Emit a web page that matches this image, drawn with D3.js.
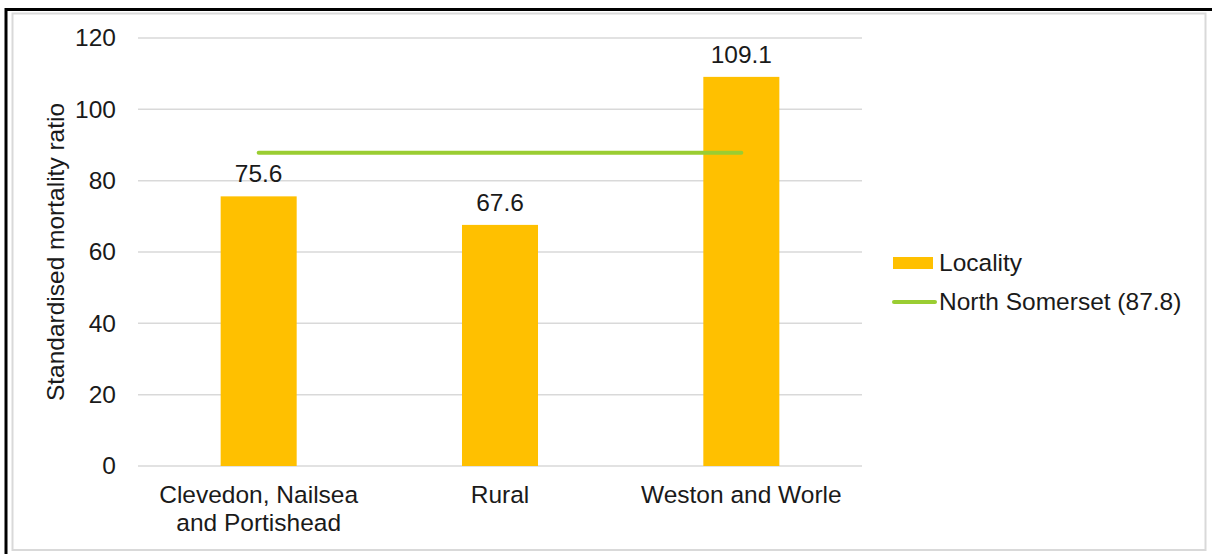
<!DOCTYPE html>
<html><head><meta charset="utf-8">
<script src="https://cdn.jsdelivr.net/npm/d3@7"></script>
<style>body{margin:0;background:#fff;}svg{display:block;font-family:"Liberation Sans",Arial,sans-serif;}</style>
</head><body><div id="chart"></div>
<script>
const categories = [["Clevedon, Nailsea", "and Portishead"], ["Rural"], ["Weston and Worle"]];
const localityValues = [75.6, 67.6, 109.1];
const northSomerset = 87.8;
const yTicks = [0, 20, 40, 60, 80, 100, 120];
const legendLabels = ["Locality", "North Somerset (87.8)"];

const W = 1212, H = 554;
const FS = 24.5;
const svg = d3.select("#chart").append("svg").attr("width", W).attr("height", H);

// frame
svg.append("rect").attr("x", 12.5).attr("y", 13.5).attr("width", 1193).attr("height", 536.5)
  .attr("fill", "#fff").attr("stroke", "#d9d9d9").attr("stroke-width", 2);
svg.append("path").attr("d", "M6,554 V9.5 H1212").attr("fill", "none").attr("stroke", "#000").attr("stroke-width", 3);

const m = {left: 138, right: 862, top: 38, bottom: 466};
const x = d3.scaleBand().domain(categories.map((d, i) => i)).range([m.left, m.right]).paddingInner(0.685).paddingOuter(0.3425);
const y = d3.scaleLinear().domain([0, 120]).range([m.bottom, m.top]);

const g = svg.append("g");
// gridlines
g.selectAll("line.grid").data(yTicks).enter().append("line")
  .attr("x1", m.left).attr("x2", m.right)
  .attr("y1", d => y(d)).attr("y2", d => y(d))
  .attr("stroke", "#d9d9d9").attr("stroke-width", 1.5);

// y axis labels via axis
const yAxis = d3.axisLeft(y).tickValues(yTicks).tickSize(0).tickPadding(0);
const ya = svg.append("g").attr("transform", `translate(${m.left - 22},0)`).call(yAxis);
ya.select(".domain").remove();
ya.selectAll("text").attr("font-size", FS).attr("fill", "#1a1a1a").attr("font-family", "Liberation Sans, Arial, sans-serif");

// bars
g.selectAll("rect.bar").data(localityValues).enter().append("rect")
  .attr("x", (d, i) => x(i)).attr("width", x.bandwidth())
  .attr("y", d => y(d)).attr("height", d => y(0) - y(d))
  .attr("fill", "#ffc000");

// value labels
g.selectAll("text.val").data(localityValues).enter().append("text")
  .attr("x", (d, i) => x(i) + x.bandwidth() / 2).attr("y", d => y(d) - 14)
  .attr("text-anchor", "middle").attr("font-size", FS).attr("fill", "#1a1a1a")
  .text(d => d.toFixed(1));

// North Somerset line
const lineData = categories.map((c, i) => [x(i) + x.bandwidth() / 2, y(northSomerset)]);
g.append("path").attr("d", d3.line()(lineData))
  .attr("stroke", "#9acd32").attr("stroke-width", 4).attr("fill", "none").attr("stroke-linecap", "round");

// category labels
categories.forEach((lines, i) => {
  const t = g.append("text").attr("text-anchor", "middle").attr("font-size", FS).attr("fill", "#1a1a1a");
  lines.forEach((l, j) => {
    t.append("tspan").attr("x", x(i) + x.bandwidth() / 2).attr("y", 503 + j * 28).text(l);
  });
});

// y axis title
svg.append("text").attr("transform", `translate(64,252) rotate(-90)`)
  .attr("text-anchor", "middle").attr("font-size", FS).attr("fill", "#1a1a1a")
  .text("Standardised mortality ratio");

// legend
const lg = svg.append("g");
lg.append("rect").attr("x", 893).attr("y", 257).attr("width", 40).attr("height", 12).attr("fill", "#ffc000");
lg.append("text").attr("x", 939).attr("y", 271).attr("font-size", FS).attr("fill", "#1a1a1a").text(legendLabels[0]);
lg.append("line").attr("x1", 894).attr("x2", 935).attr("y1", 302).attr("y2", 302)
  .attr("stroke", "#9acd32").attr("stroke-width", 4).attr("stroke-linecap", "round");
lg.append("text").attr("x", 939).attr("y", 310).attr("font-size", FS).attr("fill", "#1a1a1a").text(legendLabels[1]);
</script></body></html>
